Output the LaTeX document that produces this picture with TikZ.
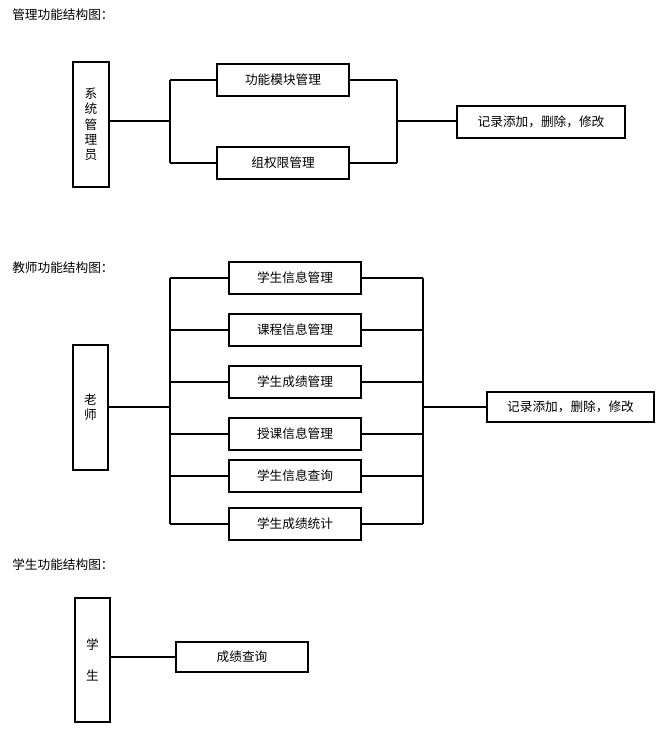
\documentclass[tikz,border=0pt]{standalone}
\usepackage{fontspec}
\setmainfont{Noto Sans CJK SC}
\begin{document}
\begin{tikzpicture}[x=0.75pt,y=-0.75pt,
  bx/.style={draw,thick,minimum width=0,inner sep=0,font=\fontsize{9.5}{11.5}\selectfont},
  ln/.style={thick},
  ttl/.style={anchor=west,inner sep=0,font=\fontsize{9.5}{11}\selectfont}]
\useasboundingbox[fill=white] (0,0) rectangle (661,742);
\newcommand{\bx}[6]{\node[bx,minimum width={(#3-#2)*0.75pt},minimum height={(#5-#4)*0.75pt},align=center] (#1) at ({(#2+#3)/2},{(#4+#5)/2}) {#6};}
% admin
\node[ttl] (t1) at (12,15) {管理功能结构图：};
\bx{a}{73}{109}{62}{187}{系\\统\\管\\理\\员}
\bx{a1}{217}{349}{64}{96}{功能模块管理}
\bx{a2}{217}{349}{147}{179}{组权限管理}
\bx{ar}{457}{625}{106}{138}{记录添加，删除，修改}
\coordinate (ja) at (170,121);
\coordinate (ka) at (397,121);
\draw[ln] (a.east|-ja) -- (ja);
\draw[ln] (ja|-a1.west) -- (ja|-a2.west);
\draw[ln] (ja|-a1.west) -- (a1.west);
\draw[ln] (ja|-a2.west) -- (a2.west);
\draw[ln] (a1.east) -- (ka|-a1.east);
\draw[ln] (a2.east) -- (ka|-a2.east);
\draw[ln] (ka|-a1.east) -- (ka|-a2.east);
\draw[ln] (ka) -- (ar.west|-ka);
% teacher
\node[ttl] (t2) at (12,268) {教师功能结构图：};
\bx{b}{73}{108}{345}{470}{老\\师}
\bx{b1}{229}{361}{262}{294}{学生信息管理}
\bx{b2}{229}{361}{314}{346}{课程信息管理}
\bx{b3}{229}{361}{366}{398}{学生成绩管理}
\bx{b4}{229}{361}{418}{450}{授课信息管理}
\bx{b5}{229}{361}{460}{492}{学生信息查询}
\bx{b6}{229}{361}{508}{540}{学生成绩统计}
\bx{br}{487}{654}{392}{422}{记录添加，删除，修改}
\coordinate (jb) at (170,407);
\coordinate (kb) at (423,407);
\draw[ln] (b.east|-jb) -- (jb);
\draw[ln] (jb|-b1.west) -- (jb|-b6.west);
\draw[ln] (kb|-b1.east) -- (kb|-b6.east);
\foreach \n in {b1,b2,b3,b4,b5,b6}{
  \draw[ln] (jb|-\n.west) -- (\n.west);
  \draw[ln] (\n.east) -- (kb|-\n.east);}
\draw[ln] (kb) -- (br.west|-kb);
% student
\node[ttl] (t3) at (12,565) {学生功能结构图：};
\bx{c}{75}{110}{598}{722}{学\\\\生}
\bx{c1}{176}{308}{642}{672}{成绩查询}
\draw[ln] (c.east|-c1.west) -- (c1.west);
\end{tikzpicture}
\end{document}
